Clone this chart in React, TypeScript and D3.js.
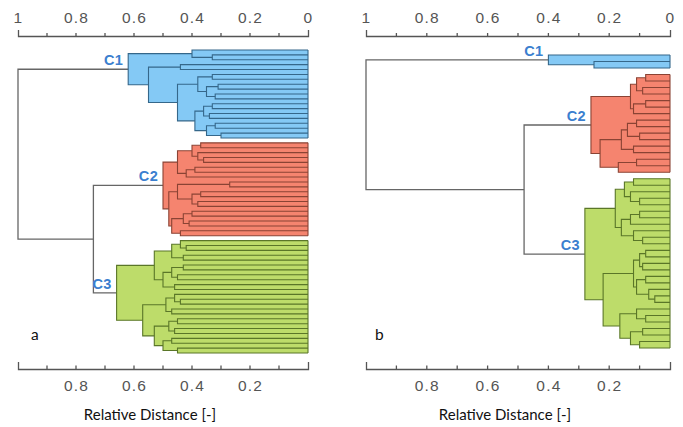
import React, { useEffect, useRef } from "react";
import * as d3 from "d3";

// a node is [height, child, child], a leaf is L
type Tree = number | Tree[];
const L = 0;

// panel a
const aRootHeight = 1.0;
const aMergeHeight = 0.74;
const aC1: Tree = [0.62,
  [0.40, L, [0.33, L, L]],
  [0.55,
    [0.44, L, L],
    [0.45,
      [0.38, [0.33, L, L], [0.35, [0.31, L, L], [0.32, L, L]]],
      [0.39, [0.36, [0.33, L, L], [0.34, L, L]], [0.35, [0.32, L, L], [0.30, L, L]]]]]];
const aC2: Tree = [0.50,
  [0.45, [0.40, [0.37, L, L], [0.38, L, [0.36, L, L]]], [0.42, [0.39, L, L], L]],
  [0.48,
    [0.45, [0.27, L, L], [0.40, [0.37, L, L], [0.38, L, L]]],
    [0.47, [0.43, [0.40, L, L], [0.41, L, L]], [0.44, L, L]]]];
const aC3: Tree = [0.66,
  [0.53,
    [0.47, [0.44, L, [0.42, L, L]], [0.43, L, L]],
    [0.50, [0.47, [0.43, L, L], [0.45, L, L]], [0.46, L, L]]],
  [0.57,
    [0.49, [0.46, L, [0.44, L, L]], [0.47, L, L]],
    [0.53, [0.48, [0.45, L, L], [0.46, L, L]], [0.50, [0.47, L, L], [0.45, L, L]]]]];

// panel b
const bRootHeight = 1.0;
const bMergeHeight = 0.48;
const bC1: Tree = [0.40, L, [0.25, L, L]];
const bC2: Tree = [0.26,
  [0.13, [0.11, [0.08, L, L], [0.09, L, L]], [0.12, [0.08, L, L], L]],
  [0.23, [0.16, [0.14, [0.11, L, L], [0.10, L, L]], [0.12, L, L]], [0.17, [0.11, L, L], L]]];
const bC3: Tree = [0.28,
  [0.18,
    [0.15, [0.12, L, L], [0.13, L, [0.10, L, L]]],
    [0.16, [0.13, [0.10, L, L], L], [0.12, L, [0.09, L, L]]]],
  [0.22,
    [0.12, [0.10, [0.08, L, L], [0.09, L, L]], [0.11, [0.08, L, L], [0.07, L, [0.05, L, L]]]],
    [0.165, [0.11, L, [0.08, L, L]], [0.13, [0.09, L, L], [0.10, L, L]]]]];

const clusterNames = ["C1", "C2", "C3"];
const panelLetters = ["a", "b"];
const topTicks = [1, 0.8, 0.6, 0.4, 0.2, 0];
const bottomTicks = [0.8, 0.6, 0.4, 0.2];
const minorTicks = [0.9, 0.8, 0.7, 0.6, 0.5, 0.4, 0.3, 0.2, 0.1];
const axisTitle = "Relative Distance [-]";

const fills = ["#84c9f5", "#f5846f", "#bddc6a"];
const strokes = ["#35678a", "#8a4334", "#5a7628"];
const labelColor = "#3b7fcf";
const greyLine = "#666";

const width = 683;
const height = 427;

const layouts = [
  { xLeft: 18, xRight: 308, yTop: 50, yBottom: 353, letterX: 31, titleX: 150 },
  { xLeft: 366, xRight: 670, yTop: 55, yBottom: 348, letterX: 375, titleX: 505 },
];

function drawPanel(svg: any, clusters: Tree[], rootH: number, mergeH: number, layout: any, letter: string) {
  const tree: Tree = [rootH, clusters[0], [mergeH, clusters[1], clusters[2]]];
  const x = d3.scaleLinear().domain([1, 0]).range([layout.xLeft, layout.xRight]);
  const root: any = d3.hierarchy<Tree>(tree, (d) => (Array.isArray(d) ? (d.slice(1) as Tree[]) : null));

  const clusterOf = new Map<any, number>();
  root.descendants().forEach((n: any) => {
    const k = clusters.indexOf(n.data);
    if (k >= 0) n.descendants().forEach((m: any) => clusterOf.set(m, k));
  });

  const leaves = root.leaves();
  const y = d3.scaleLinear().domain([0, leaves.length - 1]).range([layout.yTop, layout.yBottom]);
  leaves.forEach((l: any, i: number) => {
    l.px = x(0);
    l.py = y(i);
  });
  root.eachAfter((n: any) => {
    if (!n.children) return;
    const first = n.children[0];
    const last = n.children[n.children.length - 1];
    n.px = x(n.data[0]);
    n.py = (first.py + last.py) / 2;
  });

  const g = svg.append("g");
  const inner = root.descendants().filter((n: any) => n.children);

  // filled cluster areas
  g.selectAll("rect.area")
    .data(inner.filter((n: any) => clusterOf.has(n)))
    .join("rect")
    .attr("class", "area")
    .attr("x", (n: any) => n.px)
    .attr("y", (n: any) => n.children[0].py)
    .attr("width", (n: any) => x(0) - n.px)
    .attr("height", (n: any) => n.children[n.children.length - 1].py - n.children[0].py)
    .attr("fill", (n: any) => fills[clusterOf.get(n) as number]);

  // elbows
  g.selectAll("path.link")
    .data(inner)
    .join("path")
    .attr("class", "link")
    .attr("fill", "none")
    .attr("stroke", (n: any) => (clusterOf.has(n) ? strokes[clusterOf.get(n) as number] : greyLine))
    .attr("stroke-width", (n: any) => (clusterOf.has(n) ? 1.1 : 1.3))
    .attr("d", (n: any) => {
      const a = n.children[0];
      const b = n.children[n.children.length - 1];
      return `M${a.px},${a.py}H${n.px}V${b.py}H${b.px}`;
    });

  const clusterNodes = clusters.map((c) => root.descendants().find((n: any) => n.data === c));

  // right edge of each block
  g.selectAll("line.edge")
    .data(clusterNodes)
    .join("line")
    .attr("x1", x(0))
    .attr("x2", x(0))
    .attr("y1", (n: any) => n.leaves()[0].py)
    .attr("y2", (n: any) => n.leaves()[n.leaves().length - 1].py)
    .attr("stroke", (_: any, i: number) => strokes[i])
    .attr("stroke-width", 1.1);

  g.selectAll("text.cl")
    .data(clusterNodes)
    .join("text")
    .attr("x", (n: any) => n.px - 5)
    .attr("y", (n: any) => n.py - 4)
    .attr("text-anchor", "end")
    .attr("font-family", "Liberation Sans, Arial, sans-serif")
    .attr("font-size", 14.5)
    .attr("font-weight", "bold")
    .attr("letter-spacing", 0.3)
    .attr("fill", labelColor)
    .text((_: any, i: number) => clusterNames[i]);

  // top axis
  const top = g
    .append("g")
    .attr("transform", "translate(0,36)")
    .call(
      d3
        .axisTop(x)
        .tickValues(topTicks)
        .tickSizeInner(0)
        .tickSizeOuter(6)
        .tickPadding(13)
        .tickFormat((d: any) => String(d))
    );
  top.selectAll(".minor")
    .data(minorTicks)
    .join("line")
    .attr("class", "minor")
    .attr("x1", (d: number) => x(d))
    .attr("x2", (d: number) => x(d))
    .attr("y1", 0)
    .attr("y2", -3);

  const bottom = g
    .append("g")
    .attr("transform", "translate(0,369)")
    .call(
      d3
        .axisBottom(x)
        .tickValues(bottomTicks)
        .tickSizeInner(0)
        .tickSizeOuter(-7)
        .tickPadding(11)
        .tickFormat((d: any) => String(d))
    );
  bottom.selectAll(".minor")
    .data(minorTicks)
    .join("line")
    .attr("class", "minor")
    .attr("x1", (d: number) => x(d))
    .attr("x2", (d: number) => x(d))
    .attr("y1", 0)
    .attr("y2", -3.5);

  [top, bottom].forEach((ax: any) => {
    ax.selectAll(".domain, line").attr("stroke", "#555").attr("stroke-width", 1.3);
    ax.selectAll("text")
      .attr("font-family", "Liberation Sans, Arial, sans-serif")
      .attr("font-size", 15.5)
      .attr("letter-spacing", 1.2)
      .attr("fill", "#555");
  });

  g.append("text")
    .attr("x", layout.letterX)
    .attr("y", 340)
    .attr("font-family", "Lato, sans-serif")
    .attr("font-size", 15.5)
    .attr("fill", "#111")
    .text(letter);

  g.append("text")
    .attr("x", layout.titleX)
    .attr("y", 420)
    .attr("text-anchor", "middle")
    .attr("font-family", "Lato, sans-serif")
    .attr("font-size", 15)
    .attr("fill", "#111")
    .text(axisTitle);
}

const App: React.FC = () => {
  const svgRef = useRef<SVGSVGElement>(null);

  useEffect(() => {
    if (!svgRef.current) return;
    const svg = d3.select(svgRef.current);
    svg.selectAll("*").remove();
    drawPanel(svg, [aC1, aC2, aC3], aRootHeight, aMergeHeight, layouts[0], panelLetters[0]);
    drawPanel(svg, [bC1, bC2, bC3], bRootHeight, bMergeHeight, layouts[1], panelLetters[1]);
  }, []);

  return (
    <div style={{ position: "fixed", left: 0, top: 0 }}>
      <svg ref={svgRef} width={width} height={height} style={{ display: "block", background: "#fff" }}></svg>
    </div>
  );
};

export default App;
